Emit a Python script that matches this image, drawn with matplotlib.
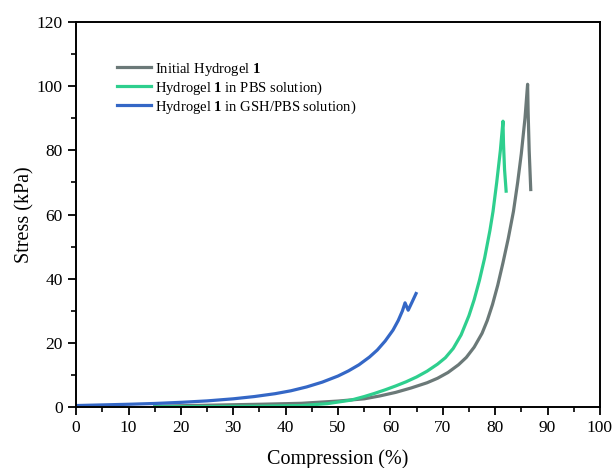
import matplotlib
matplotlib.use("Agg")
import matplotlib.pyplot as plt
from matplotlib.ticker import MultipleLocator

plt.rcParams["font.family"] = ["Liberation Serif", "DejaVu Serif"]
plt.rcParams["mathtext.fontset"] = "custom"
plt.rcParams["mathtext.rm"] = "Liberation Serif"
plt.rcParams["mathtext.bf"] = "Liberation Serif:bold"

# compression (%) vs stress (kPa) for each sample
initial_x = [15, 25, 35, 43, 50, 55, 58, 61, 64, 67, 69, 71, 73, 74.5, 76,
             77.5, 78.5, 79.5, 80.5, 81.5, 82.5, 83.5, 84.3, 85, 85.7, 86.2,
             86.3, 86.5, 86.8]
initial_y = [0.3, 0.6, 0.9, 1.2, 1.9, 2.6, 3.5, 4.6, 6.0, 7.6, 9.0, 10.8, 13.2,
             15.5, 18.7, 23, 27, 32, 38, 45, 52.5, 61, 70, 79, 90, 100.6,
             92, 80, 67.8]

pbs_x = [15, 25, 35, 43, 48, 52.5, 55, 57, 59, 61, 63, 65, 67, 69, 70.5, 72,
         73.5, 75, 76, 77, 78, 79, 79.6, 80.3, 81, 81.5, 81.6, 81.8, 82.1]
pbs_y = [0.1, 0.2, 0.3, 0.5, 1.1, 2.2, 3.3, 4.3, 5.4, 6.6, 7.9, 9.4, 11.2,
         13.4, 15.4, 18.3, 22.5, 28.5, 33.5, 39.5, 46.5, 55, 61, 70, 80,
         89.1, 82, 74, 67.3]

gsh_x = [0, 5, 10, 15, 20, 25, 30, 34, 38, 41, 44, 47, 50, 52, 54, 56, 57.5,
         59, 60.5, 61.5, 62.3, 62.8, 63.4, 64.1, 64.9]
gsh_y = [0.5, 0.7, 0.9, 1.15, 1.5, 1.95, 2.6, 3.3, 4.2, 5.1, 6.3, 7.8, 9.7,
         11.3, 13.2, 15.6, 17.8, 20.6, 24, 27, 30, 32.5, 30.2, 32.6, 35.4]

labels = ["Initial Hydrogel $\\mathbf{1}$",
          "Hydrogel $\\mathbf{1}$ in PBS solution)",
          "Hydrogel $\\mathbf{1}$ in GSH/PBS solution)"]
colors = ["#6b7978", "#2ecf8e", "#3467c6"]

fig = plt.figure(figsize=(6.14, 4.68), dpi=100)
ax = fig.add_axes([0.124, 0.130, 0.853, 0.823])

ax.plot(initial_x, initial_y, color=colors[0], lw=2.3, label=labels[0])
ax.plot(pbs_x, pbs_y, color=colors[1], lw=2.3, label=labels[1])
ax.plot(gsh_x, gsh_y, color=colors[2], lw=2.3, label=labels[2])

ax.set_xlim(0, 100)
ax.set_ylim(0, 120)
ax.xaxis.set_major_locator(MultipleLocator(10))
ax.xaxis.set_minor_locator(MultipleLocator(5))
ax.yaxis.set_major_locator(MultipleLocator(20))
ax.yaxis.set_minor_locator(MultipleLocator(10))
ax.tick_params(which="major", direction="out", length=6, width=1.3, labelsize=12.5)
ax.tick_params(which="minor", direction="out", length=3.5, width=1.2)
for sp in ax.spines.values():
    sp.set_linewidth(1.4)

ax.set_xlabel("Compression (%)", fontsize=14.5, labelpad=9)
ax.set_ylabel("Stress (kPa)", fontsize=14.5, labelpad=2)

ax.legend(loc="upper left", bbox_to_anchor=(0.078, 0.90), frameon=False,
          fontsize=10.5, handlelength=2.3, handletextpad=0.3, labelspacing=0.12,
          borderpad=0, borderaxespad=0)

fig.savefig("out.png", dpi=100)
